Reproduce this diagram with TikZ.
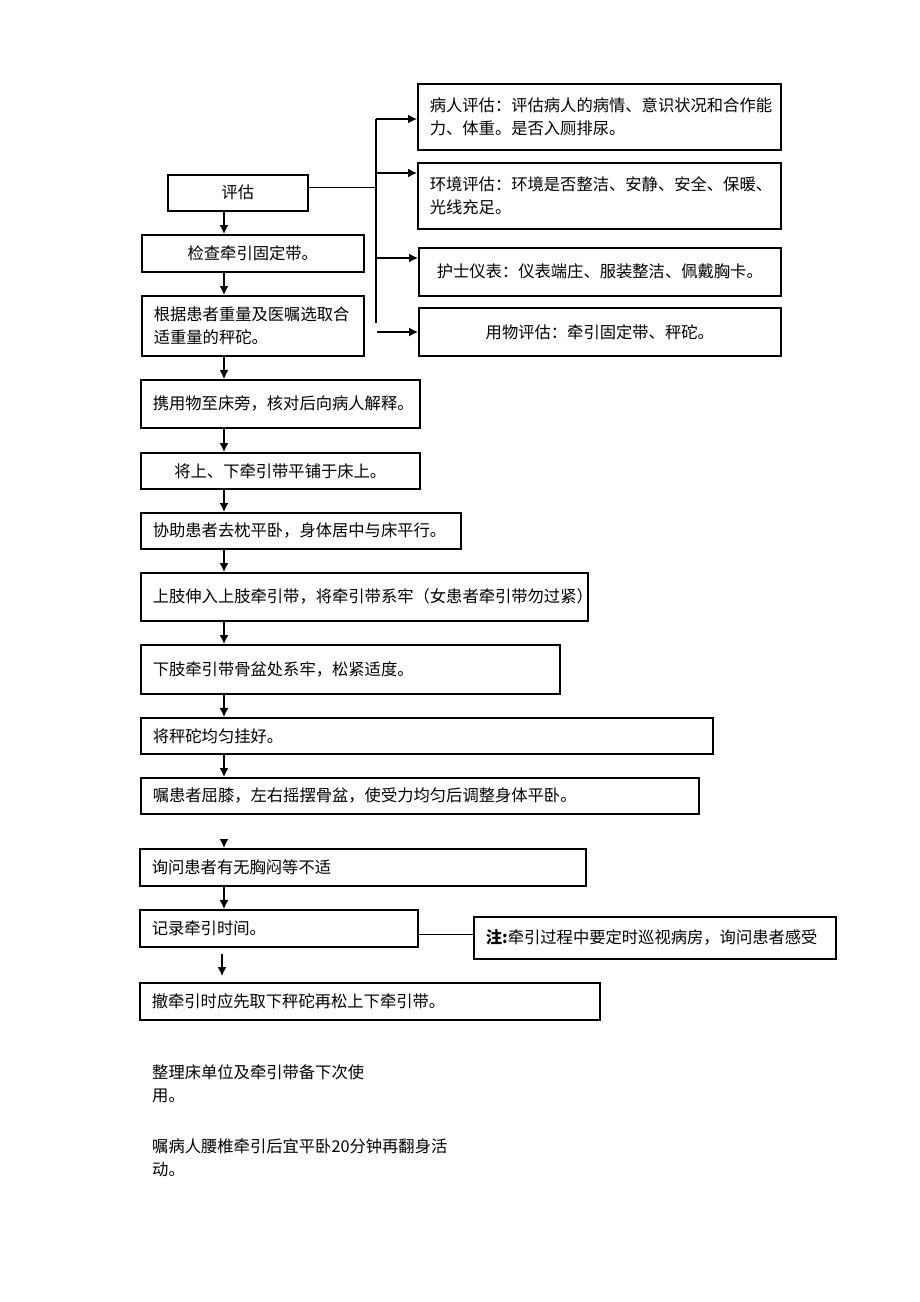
\documentclass[tikz,border=0pt]{standalone}
\usepackage{fontspec}
\setmainfont{Noto Sans CJK SC}
\usetikzlibrary{arrows.meta}
\tikzstyle{every node}=[font=\fontsize{16.3pt}{23pt}\selectfont]
\tikzstyle{lbox}=[draw, line width=1.6pt, anchor=north west, inner xsep=12pt, inner ysep=0pt, align=left]
\tikzstyle{cbox}=[lbox, align=center]
\tikzstyle{arr}=[-{Latex[length=9pt, width=9pt]}, line width=1.4pt]
\tikzstyle{link}=[line width=1.3pt]

\begin{document}
\begin{tikzpicture}[x=1pt, y=-1pt]
    \useasboundingbox (0,0) rectangle (920,1302);
    % main column
    \node	[cbox, text width=116pt, minimum height=36pt]	(pg)  at (167,174) {评估};
    \node	[cbox, text width=198pt, minimum height=37pt]	(jc)  at (141,234) {检查牵引固定带。};
    \node	[lbox, text width=198pt, minimum height=60pt]	(gj)  at (141,295) {根据患者重量及医嘱选取合\\适重量的秤砣。};
    \node	[lbox, text width=255pt, minimum height=48pt]	(xy)  at (140,379) {携用物至床旁，核对后向病人解释。};
    \node	[cbox, text width=255pt, minimum height=36pt]	(jd)  at (140,452) {将上、下牵引带平铺于床上。};
    \node	[lbox, text width=296pt, minimum height=36pt]	(xz)  at (140,512) {协助患者去枕平卧，身体居中与床平行。};
    \node	[lbox, text width=423pt, minimum height=48pt]	(sz)  at (140,572) {上肢伸入上肢牵引带，将牵引带系牢（女患者牵引带勿过紧）};
    \node	[lbox, text width=395pt, minimum height=49pt]	(xiz) at (140,644) {下肢牵引带骨盆处系牢，松紧适度。};
    \node	[lbox, text width=548pt, minimum height=36pt]	(gh)  at (140,717) {将秤砣均匀挂好。};
    \node	[lbox, text width=534pt, minimum height=36pt]	(qx)  at (140,777) {嘱患者屈膝，左右摇摆骨盆，使受力均匀后调整身体平卧。};
    \node	[lbox, text width=422pt, minimum height=37pt]	(xw)  at (139,848) {询问患者有无胸闷等不适};
    \node	[lbox, text width=254pt, minimum height=37pt]	(jl)  at (139,909) {记录牵引时间。};
    \node	[lbox, text width=436pt, minimum height=37pt]	(ch)  at (139,982) {撤牵引时应先取下秤砣再松上下牵引带。};
    % assessment items
    \node	[lbox, text width=339pt, minimum height=66pt]	(br)  at (417,83)  {病人评估：评估病人的病情、意识状况和合作能\\力、体重。是否入厕排尿。};
    \node	[lbox, text width=339pt, minimum height=66pt]	(hj)  at (417,162) {环境评估：环境是否整洁、安静、安全、保暖、\\光线充足。};
    \node	[cbox, text width=338pt, minimum height=48pt]	(hs)  at (418,247) {护士仪表：仪表端庄、服装整洁、佩戴胸卡。};
    \node	[cbox, text width=338pt, minimum height=48pt]	(yw)  at (418,307) {用物评估：牵引固定带、秤砣。};
    % note
    \node	[lbox, text width=338pt, minimum height=42pt]	(zhu) at (473,916) {\textbf{注:}牵引过程中要定时巡视病房，询问患者感受};
    % plain text
    \node	[anchor=north west, inner sep=0pt, align=left]	(zl)  at (152,1064) {整理床单位及牵引带备下次使\\用。};
    \node	[anchor=north west, inner sep=0pt, align=left]	(zb)  at (152,1139) {嘱病人腰椎牵引后宜平卧20分钟再翻身活\\动。};

    \coordinate (axis) at (224,0);
    \foreach \a/\b in {pg/jc, jc/gj, gj/xy, xy/jd, jd/xz, xz/sz, sz/xiz, xiz/gh, gh/qx, xw/jl}
        \draw[arr] (\a.south -| axis) -- (\b.north -| axis);
    \draw[arr, shorten <=25pt] (qx.south -| axis) -- (xw.north -| axis);
    \coordinate (axis2) at (222,0);
    \draw[arr, shorten <=6pt, shorten >=6pt] (jl.south -| axis2) -- (ch.north -| axis2);

    % branch to the assessment items
    \coordinate (t1) at (376,119);
    \coordinate (t2) at (376,173);
    \coordinate (t3) at (376,258);
    \coordinate (t4) at (377,332);
    \coordinate (tb) at (376,323);
    \draw[link] (t1) -- (tb);
    \draw[link] ([yshift=5pt]pg.east) -- ([yshift=5pt]pg.east -| t1);
    \foreach \c/\b in {t1/br, t2/hj, t3/hs, t4/yw}
        \draw[arr] (\c) -- (\c -| \b.west);

    \draw[link] ([yshift=-6pt]jl.east) -- ([yshift=-6pt]jl.east -| zhu.west);
\end{tikzpicture}
\end{document}
